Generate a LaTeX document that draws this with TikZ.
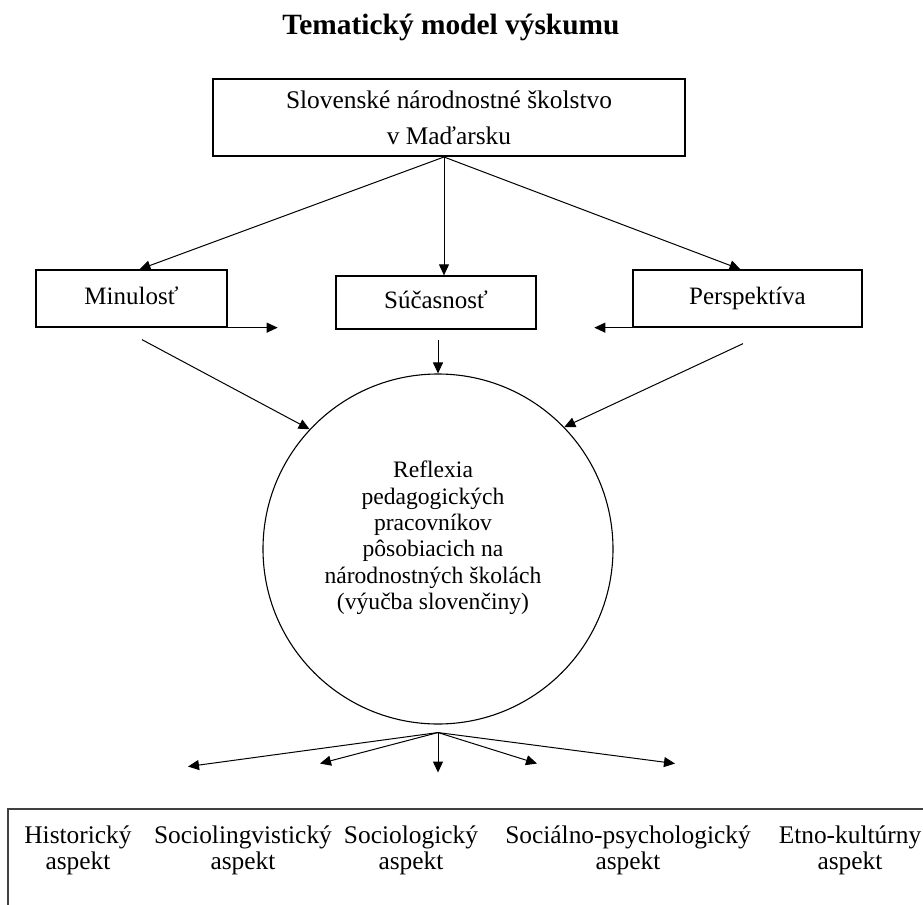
\documentclass[tikz,border=0pt]{standalone}
\usepackage{fontspec}
\setmainfont{Liberation Serif}
\usepackage{tikz}
\usetikzlibrary{arrows.meta}

\begin{document}
\begin{tikzpicture}[x=0.5pt, y=-0.5pt,
		box/.style={rectangle, draw, line width=0.65pt, align=center, inner sep=0pt, text height=8.6pt, text depth=2.6pt, font=\fontsize{12.5}{15}\selectfont},
		arr/.style={-{Triangle[length=5.5pt, width=5pt]}, line width=0.5pt},
		aspect/.style={align=center, font=\fontsize{12.7}{13}\selectfont}]
		\useasboundingbox (0,0) rectangle (923,905);
		\clip (0,0) rectangle (923,905);

		\node (title) at (451,27) {\fontsize{14.7}{17}\selectfont\bfseries Tematický model výskumu};
		\node (school) [rectangle, draw, line width=1pt, align=center, inner sep=0pt, minimum width=236pt, minimum height=38.5pt, font=\fontsize{12.7}{17.8}\selectfont] at (449,117.5) {Slovenské národnostné školstvo\\v Maďarsku};
		\node (past) [box, minimum width=95.5pt, minimum height=28.5pt] at (131.5,298.5) {Minulosť};
		\node (present) [box, minimum width=100pt, minimum height=26.5pt] at (436,302.5) {Súčasnosť};
		\node (future) [box, minimum width=114.5pt, minimum height=28.5pt] at (747.5,298.5) {Perspektíva};
		\node (reflex) [circle, draw, line width=0.55pt, minimum size=175pt, inner sep=0pt] at (438,549) {};
		\node (reflextext) [align=center, font=\fontsize{11.8}{13.2}\selectfont] at ([shift={(-5,-11)}]reflex.center) {Reflexia\\pedagogických\\pracovníkov\\pôsobiacich na\\národnostných školách\\(výučba slovenčiny)};

		\coordinate (fork) at ([xshift=-2.5pt]school.south);
		\draw[arr] (fork) -- ([xshift=4pt]past.north);
		\draw[arr] (fork) -- (fork |- present.north);
		\draw[arr] (fork) -- ([xshift=-3.5pt]future.north);
		\draw[arr] (past.south east) -- ++(50,0);
		\draw[arr] (future.south west) -- ++(-38,0);

		\draw[arr] ([shift={(10.5,12)}]past.south) -- (reflex.137);
		\draw[arr] ([shift={(2,10)}]present.south) -- (reflex.north);
		\draw[arr] ([shift={(-4.5,16)}]future.south) -- (reflex.44);

		\coordinate (fan) at ([yshift=-4pt]reflex.south);
		\draw[arr] (fan) -- ++(-250,34);
		\draw[arr] (fan) -- ++(-118,31);
		\draw[arr] (fan) -- ++(0,40);
		\draw[arr] (fan) -- ++(99,31);
		\draw[arr] (fan) -- ++(237,31);

		\draw[line width=0.7pt, black!75] (8,809) rectangle (960,960);
		\node (hist) [aspect] at (78,850) {Historický\\aspekt};
		\node (ling) [aspect] at (243,850) {Sociolingvistický\\aspekt};
		\node (soc) [aspect] at (411,850) {Sociologický\\aspekt};
		\node (psych) [aspect] at (628,850) {Sociálno-psychologický\\aspekt};
		\node (etno) [aspect] at (850,850) {Etno-kultúrny\\aspekt};

	\end{tikzpicture}
\end{document}
